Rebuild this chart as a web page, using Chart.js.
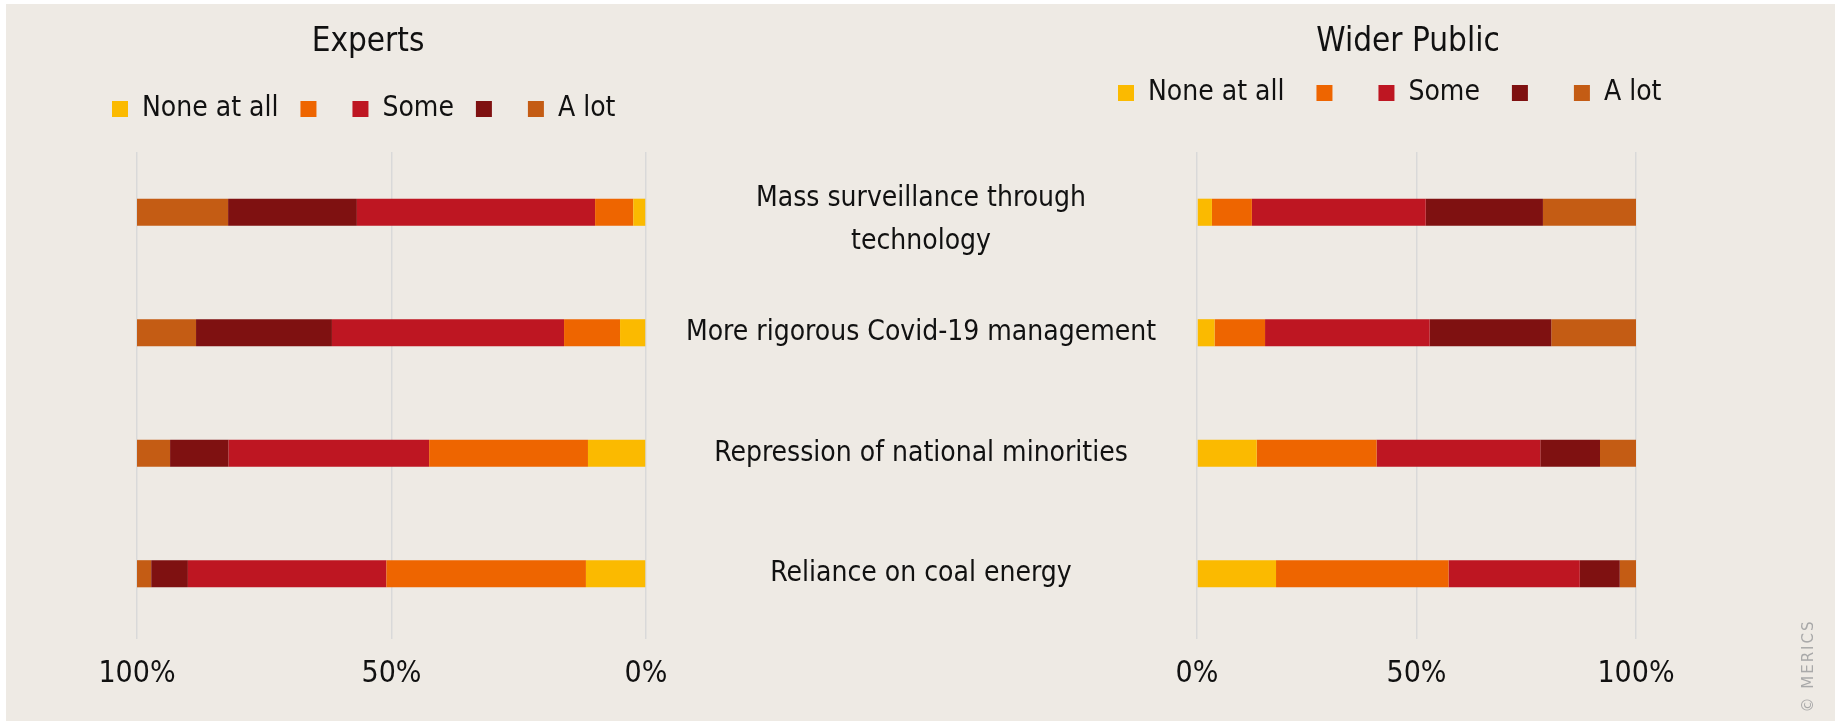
<!doctype html>
<html lang="en">
  <head>
    <meta charset="utf-8">
    <title>Experts vs Wider Public</title>
    <style>
      * {
        margin: 0;
        padding: 0;
      }
      body {
        width: 1835px;
        height: 721px;
        background: #ffffff;
        position: relative;
        overflow: hidden;
      }
      .panel {
        position: absolute;
        left: 6px;
        top: 4px;
        width: 1829px;
        height: 717px;
        background: #EEEAE4;
      }
      canvas {
        position: absolute;
        top: 0;
      }
      #expertsChart { left: 0; }
      #publicChart { left: 660px; }
      .credit {
        position: absolute;
        left: 1758px;
        top: 656px;
        width: 100px;
        height: 20px;
        line-height: 20px;
        text-align: center;
        transform: rotate(-90deg);
        font-family: 'DejaVu Sans', sans-serif;
        font-size: 15px;
        letter-spacing: 2px;
        color: #A9A9A9;
      }
    </style>
  </head>
  <body>
    <div class="panel"></div>
    <canvas id="expertsChart" width="740" height="721"></canvas>
    <canvas id="publicChart" width="1175" height="721"></canvas>
    <div class="credit">© MERICS</div>
    <script src="https://cdn.jsdelivr.net/npm/chart.js"></script>
    <script>
    // data
    const categories = [
      ['Mass surveillance through', 'technology'],
      'More rigorous Covid-19 management',
      'Repression of national minorities',
      'Reliance on coal energy'
    ];
    const seriesLabels = ['None at all', '', 'Some', '', 'A lot'];
    const seriesColors = ['#FBBA00', '#EE6500', '#BE1622', '#7F1111', '#C45C14'];

    const expertsNone   = [2.5, 5.1, 11.4, 11.8];
    const expertsLittle = [7.5, 11.0, 31.2, 39.2];
    const expertsSome   = [46.8, 45.6, 39.4, 39.0];
    const expertsMuch   = [25.3, 26.7, 11.5, 7.2];
    const expertsALot   = [17.9, 11.7, 6.5, 2.8];

    const publicNone   = [3.4, 4.0, 13.6, 18.0];
    const publicLittle = [9.1, 11.5, 27.3, 39.3];
    const publicSome   = [39.6, 37.5, 37.3, 29.9];
    const publicMuch   = [26.7, 27.7, 13.6, 9.1];
    const publicALot   = [21.2, 19.3, 8.2, 3.7];

    const FONT = "'DejaVu Sans Condensed', 'DejaVu Sans', sans-serif";
    Chart.defaults.font.family = FONT;
    Chart.defaults.color = '#111111';

    function makeDatasets(rows) {
      return rows.map((vals, i) => ({
        label: seriesLabels[i],
        data: vals,
        backgroundColor: seriesColors[i],
        borderWidth: 0,
        barPercentage: 0.225,
        categoryPercentage: 1
      }));
    }

    // draws the category names in the gap between the two panels
    const categoryText = {
      id: 'categoryText',
      afterDraw(chart, args, opts) {
        const ctx = chart.ctx;
        const yScale = chart.scales.y;
        ctx.save();
        ctx.font = '28px ' + FONT;
        ctx.fillStyle = '#111111';
        ctx.textAlign = 'center';
        ctx.textBaseline = 'middle';
        chart.data.labels.forEach((lab, i) => {
          const lines = Array.isArray(lab) ? lab : [lab];
          let yc = yScale.getPixelForValue(i);
          if (lines.length > 1) yc += opts.multiOffset;
          lines.forEach((line, k) => {
            ctx.fillText(line, opts.x, yc - (lines.length - 1) * opts.lineHeight / 2 + k * opts.lineHeight);
          });
        });
        ctx.restore();
      }
    };

    // empty axis, only used to reserve room in the layout
    function spacer(axis, position, size) {
      const s = {
        axis: axis,
        type: axis === 'x' ? 'linear' : 'category',
        position: position,
        display: true,
        grid: { display: false },
        border: { display: false },
        ticks: { display: false }
      };
      if (axis === 'x') s.afterFit = sc => { sc.height = size; };
      else s.afterFit = sc => { sc.width = size; };
      return s;
    }

    function makeConfig(rows, title, reverse, o) {
      const scales = {
        x: {
          stacked: true,
          min: 0,
          max: 100,
          reverse: reverse,
          border: { display: false },
          grid: { color: '#D9D9D9', lineWidth: 1.5, tickLength: 5 },
          ticks: {
            stepSize: 50,
            padding: 17,
            font: { size: 30 },
            color: '#111111',
            callback: v => v + '%'
          }
        },
        xTop: spacer('x', 'top', o.topGap),
        y: {
          stacked: true,
          grid: { display: false },
          border: { display: false },
          ticks: { display: false },
          afterFit: s => { s.width = o.yWidth; }
        }
      };
      if (o.rightWidth) scales.yRight = spacer('y', 'right', o.rightWidth);

      return {
        type: 'bar',
        data: { labels: categories, datasets: makeDatasets(rows) },
        options: {
          indexAxis: 'y',
          responsive: false,
          animation: false,
          layout: { padding: { left: o.padLeft, right: o.padRight, top: 0, bottom: 12 } },
          scales: scales,
          plugins: {
            title: {
              display: true,
              text: title,
              color: '#111111',
              font: { size: 33, weight: 'normal', lineHeight: 1 },
              padding: { top: 25.5, bottom: o.titleBottom }
            },
            legend: {
              align: 'start',
              labels: {
                boxWidth: 16,
                boxHeight: 16,
                padding: o.legendPad,
                color: '#111111',
                font: { size: 28 }
              }
            },
            tooltip: { enabled: false },
            categoryText: o.labels || false
          }
        },
        plugins: o.labels ? [categoryText] : []
      };
    }

    new Chart(document.getElementById('expertsChart'), makeConfig(
      [expertsNone, expertsLittle, expertsSome, expertsMuch, expertsALot],
      'Experts', true,
      { padLeft: 90, padRight: 94, yWidth: 47, titleBottom: 14.5, legendPad: 22, topGap: 19 }
    ));

    new Chart(document.getElementById('publicChart'), makeConfig(
      [publicNone, publicLittle, publicSome, publicMuch, publicALot],
      'Wider Public', false,
      { padLeft: 426, padRight: 105, yWidth: 111, rightWidth: 94, titleBottom: -11.5, legendPad: 32, topGap: 35,
        labels: { x: 261, lineHeight: 43, multiOffset: 8 } }
    ));
    </script>
  </body>
</html>
